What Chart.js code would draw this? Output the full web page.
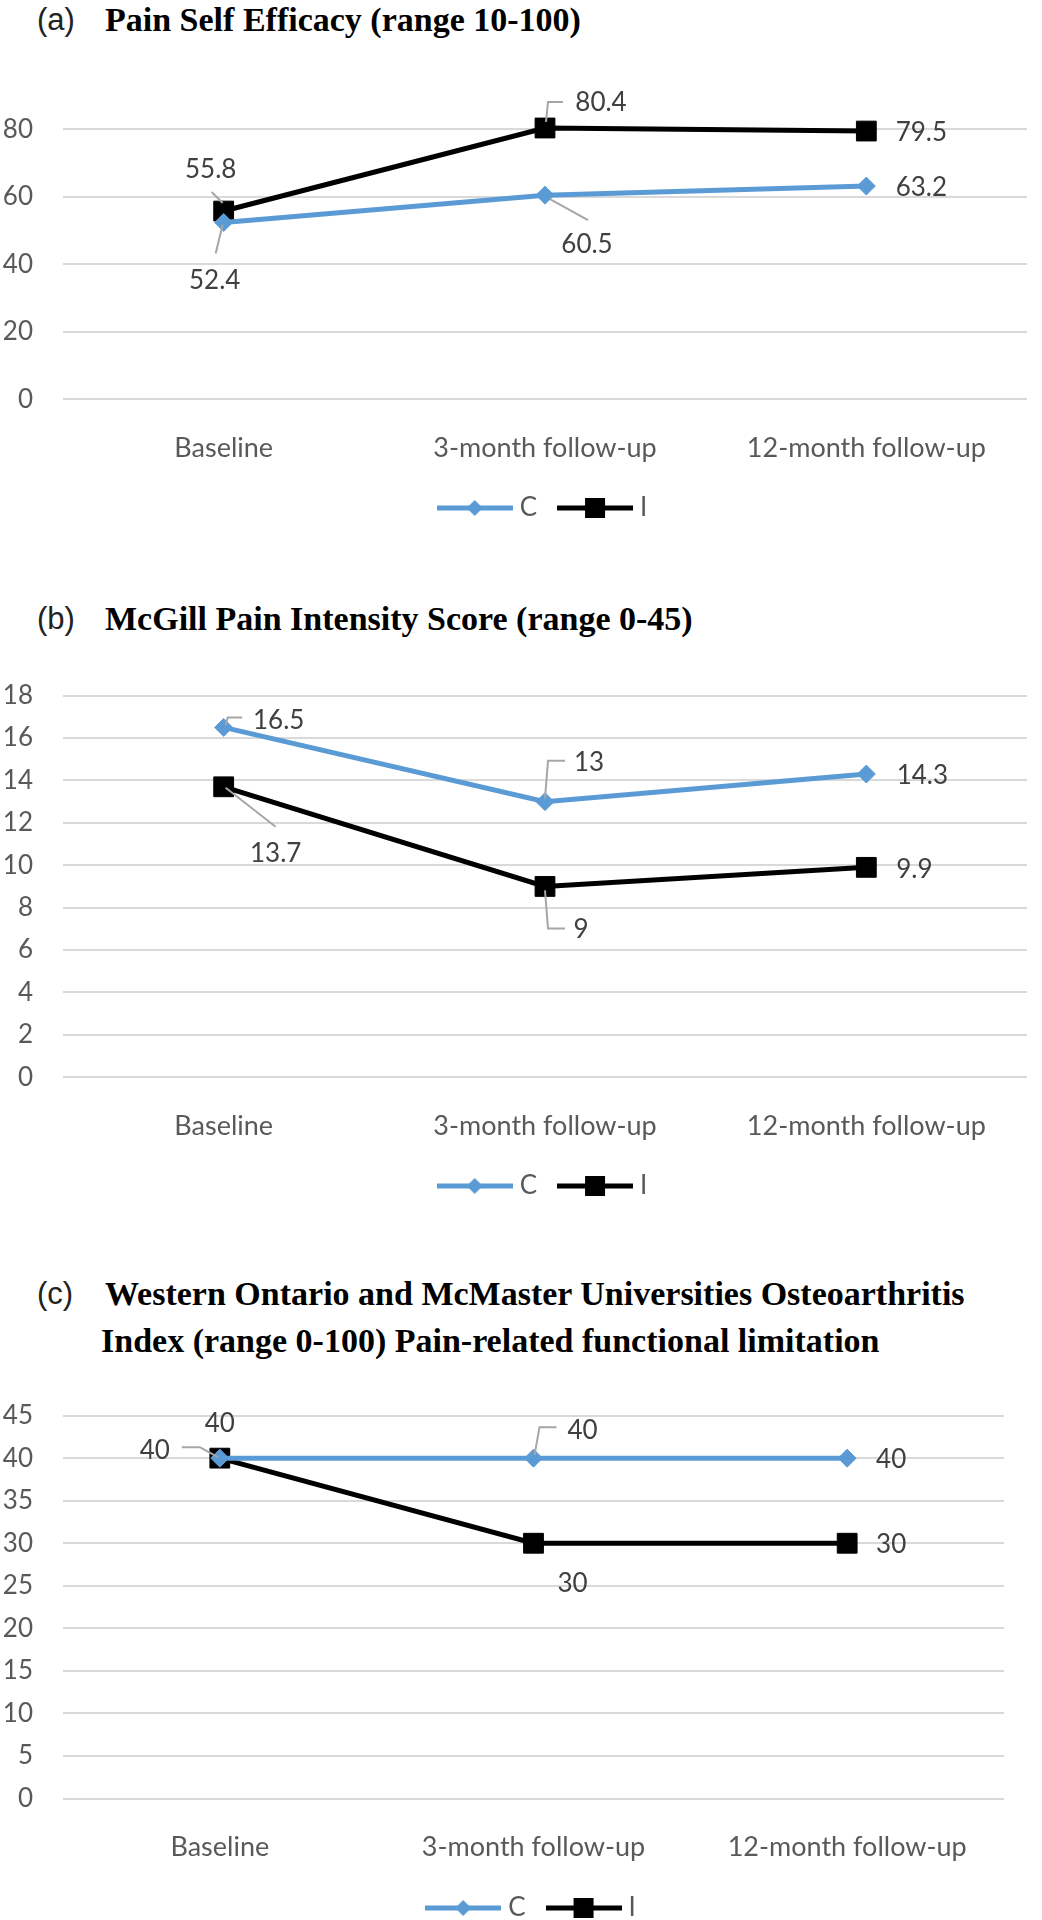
<!DOCTYPE html>
<html>
<head>
<meta charset="utf-8">
<script src="https://cdn.jsdelivr.net/npm/chart.js@4.4.0/dist/chart.umd.min.js"></script>
<style>
  body { margin: 0; background: #fff; width: 1042px; height: 1920px; overflow: hidden; position: relative; }
  .tag { position: absolute; left: 37px; font: 31px "Liberation Sans", Arial, sans-serif; color: #222; line-height: 40px; }
  .head { position: absolute; font: bold 34px "Liberation Serif", "Times New Roman", serif; color: #000; line-height: 40px; white-space: nowrap; }
  canvas { position: absolute; left: 0; }
</style>
</head>
<body>
<div class="tag" style="top:0px">(a)</div>
<div class="head" style="top:0px; left:105px">Pain Self Efficacy (range 10-100)</div>
<canvas id="chartA" width="1042" height="481" style="top:50px"></canvas>

<div class="tag" style="top:599px">(b)</div>
<div class="head" style="top:599px; left:105px">McGill Pain Intensity Score (range 0-45)</div>
<canvas id="chartB" width="1042" height="559" style="top:650px"></canvas>

<div class="tag" style="top:1274px">(c)</div>
<div class="head" style="top:1274px; left:105px">Western Ontario and McMaster Universities Osteoarthritis</div>
<div class="head" style="top:1321px; left:101px">Index (range 0-100) Pain-related functional limitation</div>
<canvas id="chartC" width="1042" height="561" style="top:1370px"></canvas>

<script>
// data
let timepoints = ['Baseline', '3-month follow-up', '12-month follow-up'];
let seriesNames = ['C', 'I'];

let efficacyC = [52.4, 60.5, 63.2];
let efficacyI = [55.8, 80.4, 79.5];

let mcgillC = [16.5, 13, 14.3];
let mcgillI = [13.7, 9, 9.9];

let womacC = [40, 40, 40];
let womacI = [40, 30, 30];

let blue = '#5B9BD5';
let black = '#000000';
let grey = '#595959';

// little line+marker pictures for the legend
function legendIcon(color, shape, size) {
    let c = document.createElement('canvas');
    c.width = 76;
    c.height = 24;
    let g = c.getContext('2d');
    g.strokeStyle = color;
    g.lineWidth = 5;
    g.beginPath();
    g.moveTo(0, 12);
    g.lineTo(76, 12);
    g.stroke();
    g.fillStyle = color;
    if (shape == 'diamond') {
        g.beginPath();
        g.moveTo(38, 12 - size);
        g.lineTo(38 + size, 12);
        g.lineTo(38, 12 + size);
        g.lineTo(38 - size, 12);
        g.closePath();
        g.fill();
    } else {
        g.fillRect(38 - size, 12 - size, size * 2, size * 2);
    }
    return c;
}
let icons = [legendIcon(blue, 'diamond', 8), legendIcon(black, 'square', 10)];

// value labels with Excel-like leader lines
let valueLabels = {
    id: 'valueLabels',
    afterDatasetsDraw(chart, args, opts) {
        let ctx = chart.ctx;
        ctx.save();
        chart.data.datasets.forEach((ds, di) => {
            let meta = chart.getDatasetMeta(di);
            meta.data.forEach((pt, i) => {
                let spot = opts.spots[di][i];
                if (spot.leader) {
                    ctx.beginPath();
                    spot.leader.forEach((p, k) => {
                        if (k == 0) ctx.moveTo(pt.x + p[0], pt.y + p[1]);
                        else ctx.lineTo(pt.x + p[0], pt.y + p[1]);
                    });
                    ctx.strokeStyle = '#A6A6A6';
                    ctx.lineWidth = 2;
                    ctx.stroke();
                }
                ctx.fillStyle = '#404040';
                ctx.font = '26px Lato, "Open Sans", sans-serif';
                ctx.textAlign = 'center';
                ctx.textBaseline = 'middle';
                ctx.fillText(String(ds.data[i]), pt.x + spot.dx, pt.y + spot.dy);
            });
        });
        ctx.restore();
    }
};

function makeChart(id, cData, iData, yMax, yStep, top, xAxisHeight, padRight, spots) {
    let ctx = document.getElementById(id).getContext('2d');
    return new Chart(ctx, {
        type: 'line',
        data: {
            labels: timepoints,
            datasets: [{
                label: seriesNames[0],
                data: cData,
                borderColor: blue,
                backgroundColor: blue,
                borderWidth: 5,
                pointStyle: 'rectRot',
                pointRadius: 9,
                pointBorderWidth: 1,
                tension: 0
            }, {
                label: seriesNames[1],
                data: iData,
                borderColor: black,
                backgroundColor: black,
                borderWidth: 5,
                pointStyle: 'rect',
                pointRadius: 14,
                pointBorderWidth: 1,
                tension: 0
            }]
        },
        options: {
            responsive: false,
            animation: false,
            layout: {
                padding: { top: top, right: padRight, bottom: 0, left: 0 }
            },
            scales: {
                x: {
                    offset: true,
                    grid: { display: false },
                    border: { display: false },
                    ticks: {
                        color: grey,
                        padding: 25,
                        font: { family: 'Lato, "Open Sans", sans-serif', size: 27 }
                    },
                    afterFit: s => { s.height = xAxisHeight; }
                },
                y: {
                    min: 0,
                    max: yMax,
                    border: { display: false },
                    grid: { color: '#D9D9D9', lineWidth: 2, drawTicks: false },
                    ticks: {
                        stepSize: yStep,
                        color: grey,
                        padding: 30,
                        font: { family: 'Lato, "Open Sans", sans-serif', size: 26 }
                    },
                    afterBuildTicks: s => {
                        s.ticks = s.ticks.filter(t => t.value % yStep == 0);
                    },
                    afterFit: s => { s.width = 63; }
                }
            },
            plugins: {
                legend: {
                    position: 'bottom',
                    fullSize: false,
                    labels: {
                        usePointStyle: true,
                        pointStyleWidth: 64,
                        padding: 26,
                        color: grey,
                        font: { family: 'Lato, "Open Sans", sans-serif', size: 26 },
                        generateLabels: chart => Chart.defaults.plugins.legend.labels.generateLabels(chart)
                            .map((item, i) => Object.assign(item, { pointStyle: icons[i] }))
                    }
                },
                tooltip: { enabled: false },
                valueLabels: { spots: spots }
            }
        },
        plugins: [valueLabels]
    });
}

let chartA = makeChart('chartA', efficacyC, efficacyI, 90, 20, 34.9, 69.6, 4.5, [
    [
        { dx: -9, dy: 58, leader: [[-8, 31], [-1, 2]] },
        { dx: 42, dy: 49, leader: [[43, 25], [5, 4]] },
        { dx: 55, dy: 2 }
    ],
    [
        { dx: -13, dy: -41, leader: [[-12, -19], [-1, -8]] },
        { dx: 56, dy: -25, leader: [[18, -26], [3, -26], [1, -6]] },
        { dx: 55, dy: 2 }
    ]
]);

let chartB = makeChart('chartB', mcgillC, mcgillI, 18, 2, 41.7, 69.7, 14.5, [
    [
        { dx: 55, dy: -7, leader: [[18.5, -10], [4, -10], [2, -2]] },
        { dx: 44, dy: -39, leader: [[20, -41], [3, -41], [0, -3]] },
        { dx: 56, dy: 2 }
    ],
    [
        { dx: 52, dy: 67, leader: [[52, 40], [2, 1]] },
        { dx: 36, dy: 43, leader: [[20, 42], [3, 42], [0, 4]] },
        { dx: 48, dy: 2 }
    ]
]);

let chartC = makeChart('chartC', womacC, womacI, 45, 5, 42.9, 70.5, 38, [
    [
        { dx: -65, dy: -8, leader: [[-38, -11], [-20, -11], [-2, -1]] },
        { dx: 49, dy: -28, leader: [[23, -31], [6, -31], [1, -3]] },
        { dx: 44, dy: 1 }
    ],
    [
        { dx: 0, dy: -35 },
        { dx: 39, dy: 40 },
        { dx: 44, dy: 1 }
    ]
]);
</script>
</body>
</html>
